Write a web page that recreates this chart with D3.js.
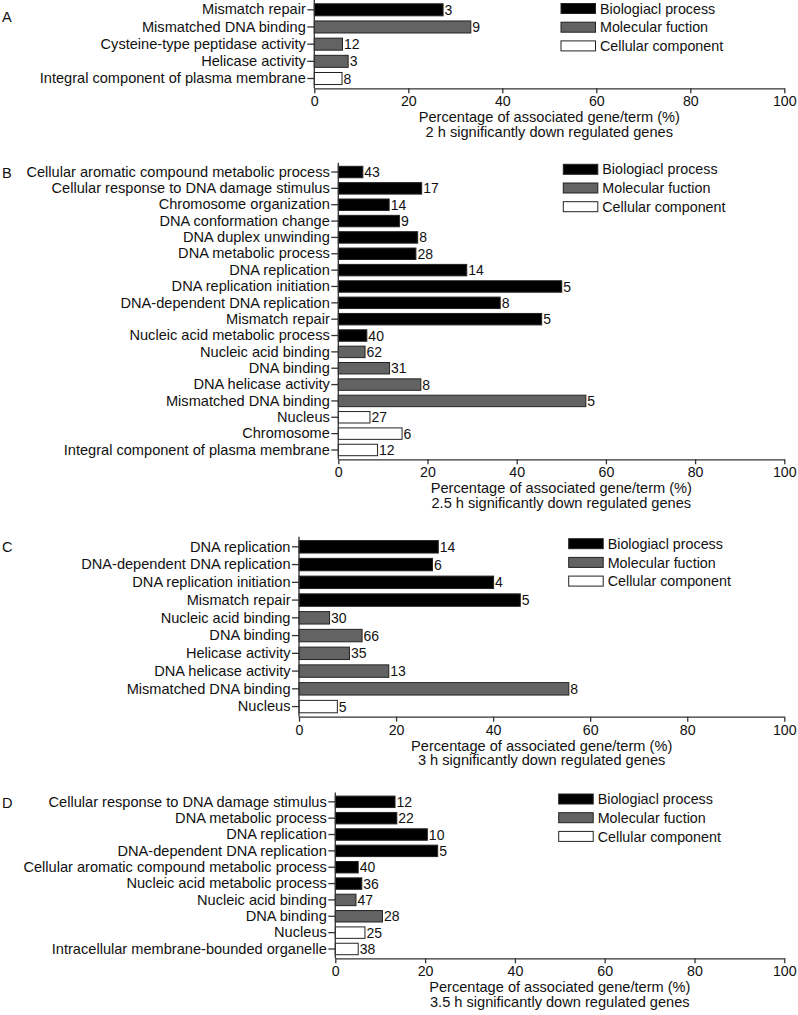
<!DOCTYPE html>
<html><head><meta charset="utf-8">
<script src="https://cdn.jsdelivr.net/npm/d3@7/dist/d3.min.js"></script>
<style>body{margin:0;background:#fff}svg{display:block}text{font-family:"Liberation Sans",Arial,sans-serif;fill:#111}</style>
</head><body><svg id="c" width="798" height="1015"></svg>
<script>
// ---- data ----
const aCategories = ["Mismatch repair","Mismatched DNA binding","Cysteine-type peptidase activity","Helicase activity","Integral component of plasma membrane"];
const aValues = [27.4,33.3,6.0,7.2,5.9];
const aCounts = ["3","9","12","3","8"];
const aGroups = ["BP","MF","MF","MF","CC"];

const bCategories = ["Cellular aromatic compound metabolic process","Cellular response to DNA damage stimulus","Chromosome organization","DNA conformation change","DNA duplex unwinding","DNA metabolic process","DNA replication","DNA replication initiation","DNA-dependent DNA replication","Mismatch repair","Nucleic acid metabolic process","Nucleic acid binding","DNA binding","DNA helicase activity","Mismatched DNA binding","Nucleus","Chromosome","Integral component of plasma membrane"];
const bValues = [5.5,18.7,11.4,13.7,17.8,17.4,28.8,50.1,36.3,45.6,6.4,6.0,11.5,18.5,55.5,7.1,14.3,8.8];
const bCounts = ["43","17","14","9","8","28","14","5","8","5","40","62","31","8","5","27","6","12"];
const bGroups = ["BP","BP","BP","BP","BP","BP","BP","BP","BP","BP","BP","MF","MF","MF","MF","CC","CC","CC"];

const cCategories = ["DNA replication","DNA-dependent DNA replication","DNA replication initiation","Mismatch repair","Nucleic acid binding","DNA binding","Helicase activity","DNA helicase activity","Mismatched DNA binding","Nucleus"];
const cValues = [28.7,27.5,40.1,45.6,6.3,13.0,10.4,18.5,55.6,7.9];
const cCounts = ["14","6","4","5","30","66","35","13","8","5"];
const cGroups = ["BP","BP","BP","BP","MF","MF","MF","MF","MF","CC"];

const dCategories = ["Cellular response to DNA damage stimulus","DNA metabolic process","DNA replication","DNA-dependent DNA replication","Cellular aromatic compound metabolic process","Nucleic acid metabolic process","Nucleic acid binding","DNA binding","Nucleus","Intracellular membrane-bounded organelle"];
const dValues = [13.3,13.7,20.5,22.8,5.1,5.9,4.6,10.5,6.6,5.1];
const dCounts = ["12","22","10","5","40","36","47","28","25","38"];
const dGroups = ["BP","BP","BP","BP","BP","BP","MF","MF","CC","CC"];

const legendKeys = ["BP","MF","CC"];
const legendLabels = ["Biologiacl process","Molecular fuction","Cellular component"];
const xTicks = [0,20,40,60,80,100];
const xTitle = "Percentage of associated gene/term (%)";
const subtitles = ["2 h significantly down regulated genes","2.5 h significantly down regulated genes","3 h significantly down regulated genes","3.5 h significantly down regulated genes"];
const panelLetters = ["A","B","C","D"];

// ---- layout ----
const fills = {BP:"#000000", MF:"#636363", CC:"#ffffff"};
const layouts = [
  {x0:314.3, x1:784.3, top:0,   axisY:88.3,  legX:561, legY:8.5,   letterY:22},
  {x0:338.3, x1:784.3, top:162.7,axisY:459.3, legX:563.3, legY:169.3, letterY:178},
  {x0:299,   x1:784.3, top:536.7,axisY:716.7, legX:568.7, legY:543.7, letterY:552},
  {x0:335.3, x1:784.3, top:792.5,axisY:958.3, legX:558.7, legY:799, letterY:808}
];
const panels = [
  {cats:aCategories, vals:aValues, counts:aCounts, groups:aGroups},
  {cats:bCategories, vals:bValues, counts:bCounts, groups:bGroups},
  {cats:cCategories, vals:cValues, counts:cCounts, groups:cGroups},
  {cats:dCategories, vals:dValues, counts:dCounts, groups:dGroups}
];

const svg = d3.select("#c");
const FS = 14.6;   // category labels and axis titles
const FV = 14;     // value labels
const FL = 14.3;   // legend
const FT = 14.2;   // tick labels
const FAM = '"Liberation Sans",Arial,sans-serif';

panels.forEach((p, i) => {
  const L = layouts[i];
  const g = svg.append("g");
  const x = d3.scaleLinear().domain([0,100]).range([L.x0, L.x1]);
  const y = d3.scaleBand().domain(p.cats).range([L.top, L.axisY]).paddingInner(0.3).paddingOuter(0.22);

  // bars
  g.selectAll("rect.bar").data(p.cats).join("rect")
    .attr("x", x(0)).attr("y", d => y(d))
    .attr("width", (d,j) => x(p.vals[j]) - x(0))
    .attr("height", y.bandwidth())
    .attr("fill", (d,j) => fills[p.groups[j]])
    .attr("stroke", "#222").attr("stroke-width", 1);

  // value labels
  g.selectAll("text.val").data(p.cats).join("text")
    .attr("x", (d,j) => x(p.vals[j]) + 1.5)
    .attr("y", d => y(d) + y.bandwidth()/2)
    .attr("dy", "0.36em")
    .attr("font-size", FV)
    .text((d,j) => p.counts[j]);

  // y axis
  const ya = g.append("g").attr("transform", `translate(${x(0)},0)`)
    .call(d3.axisLeft(y).tickSize(7).tickPadding(1.5));
  ya.select(".domain").attr("d", `M0,${L.top}V${L.axisY}`);
  ya.selectAll("text").attr("font-size", FS).attr("font-family", FAM).attr("fill","#111");
  ya.selectAll("line,.domain").attr("stroke", "#333").attr("stroke-width", 1.3);

  // x axis
  const xa = g.append("g").attr("transform", `translate(0,${L.axisY})`)
    .call(d3.axisBottom(x).tickValues(xTicks).tickSize(5).tickPadding(3).tickSizeOuter(0));
  xa.selectAll("text").attr("font-size", FT).attr("font-family", FAM).attr("fill","#111");
  xa.selectAll("line,.domain").attr("stroke", "#333").attr("stroke-width", 1.3);

  // titles
  const cx = (L.x0 + L.x1)/2;
  g.append("text").attr("x", cx).attr("y", L.axisY + 34).attr("text-anchor","middle").attr("font-size", FS).text(xTitle);
  g.append("text").attr("x", cx).attr("y", L.axisY + 48.5).attr("text-anchor","middle").attr("font-size", FS).text(subtitles[i]);

  // panel letter
  g.append("text").attr("x", 2).attr("y", L.letterY).attr("font-size", FS).text(panelLetters[i]);

  // legend
  const lg = g.append("g");
  legendKeys.forEach((k, j) => {
    const ly = L.legY + j*18.7;
    lg.append("rect").attr("x", L.legX).attr("y", ly - 5).attr("width", 34.5).attr("height", 10)
      .attr("fill", fills[k]).attr("stroke", "#222").attr("stroke-width", 1);
    lg.append("text").attr("x", L.legX + 39).attr("y", ly).attr("dy","0.36em").attr("font-size", FL).text(legendLabels[j]);
  });
});
</script></body></html>
